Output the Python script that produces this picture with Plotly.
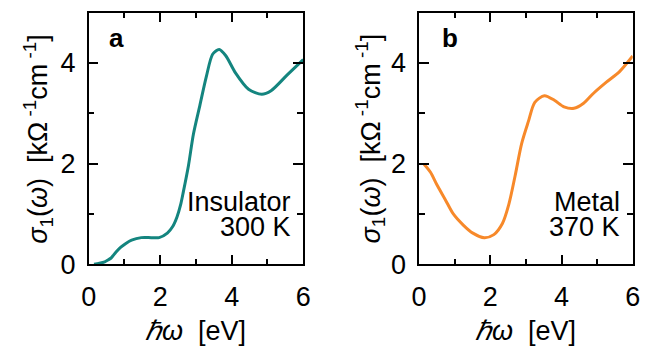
import plotly.graph_objects as go

# Optical conductivity spectra, photon energy in eV, sigma_1 in kOhm^-1 cm^-1
energy_ins = [0.15, 0.3, 0.45, 0.55, 0.62, 0.68, 0.76, 0.9, 1.05, 1.2, 1.47, 1.75, 1.97, 2.2, 2.35,
              2.47, 2.57, 2.65, 2.79, 2.93, 3.11, 3.29, 3.47, 3.65, 3.83, 4.11, 4.47, 4.84, 5.1,
              5.56, 6.0]
sigma_ins = [0.0, 0.02, 0.05, 0.09, 0.12, 0.17, 0.24, 0.34, 0.42, 0.48, 0.53, 0.53, 0.53, 0.62, 0.75,
             0.94, 1.18, 1.45, 1.96, 2.59, 3.16, 3.73, 4.18, 4.27, 4.15, 3.80, 3.48, 3.38, 3.45,
             3.77, 4.07]

energy_met = [0.14, 0.32, 0.5, 0.74, 0.96, 1.24, 1.51, 1.83, 2.1, 2.34, 2.52, 2.7, 2.88,
              3.07, 3.25, 3.52, 3.8, 4.07, 4.35, 4.62, 4.9, 5.26, 5.63, 6.0]
sigma_met = [1.99, 1.83, 1.58, 1.28, 1.0, 0.78, 0.62, 0.53, 0.59, 0.81, 1.19, 1.77, 2.4,
             2.84, 3.22, 3.35, 3.26, 3.13, 3.10, 3.20, 3.40, 3.62, 3.83, 4.14]

x_ticks = [0, 2, 4, 6]
y_ticks = [0, 2, 4]

TEAL = "#14857f"
ORANGE = "#f7892a"
FONT = "Liberation Sans, Arial, sans-serif"
FS = 27
W, H = 649, 354

fig = go.Figure()
fig.add_trace(go.Scatter(x=energy_ins, y=sigma_ins, mode="lines",
                         line=dict(color=TEAL, width=3, shape="spline", smoothing=0.8),
                         xaxis="x", yaxis="y", showlegend=False))
fig.add_trace(go.Scatter(x=energy_met, y=sigma_met, mode="lines",
                         line=dict(color=ORANGE, width=3, shape="spline", smoothing=0.8),
                         xaxis="x2", yaxis="y2", showlegend=False))

def px_x(p):
    return p / W

def px_y(p):
    return 1 - p / H

ax_common = dict(showline=True, linecolor="black", linewidth=1.5, mirror="ticks",
                 ticks="inside", ticklen=10, tickwidth=1.5, tickcolor="black",
                 showgrid=False, zeroline=False,
                 tickfont=dict(family=FONT, size=FS, color="black"),
                 minor=dict(ticks="inside", ticklen=6, tickwidth=1.5, tickcolor="black",
                            dtick=1, showgrid=False))

y_dom = [px_y(276), px_y(13.3)]
fig.update_layout(
    width=W, height=H, margin=dict(l=0, r=0, t=0, b=0),
    paper_bgcolor="white", plot_bgcolor="white",
    xaxis=dict(domain=[px_x(82.7), px_x(302.7)], range=[0, 6], tickvals=x_ticks,
               anchor="y", ticklabelstandoff=8, **ax_common),
    yaxis=dict(domain=y_dom, range=[0, 5], tickvals=y_ticks, anchor="x",
               ticklabelstandoff=6, **ax_common),
    xaxis2=dict(domain=[px_x(421.5), px_x(640.5)], range=[0, 6], tickvals=x_ticks,
                anchor="y2", ticklabelstandoff=8, **ax_common),
    yaxis2=dict(domain=y_dom, range=[0, 5], tickvals=y_ticks, anchor="x2",
                ticklabelstandoff=6, **ax_common),
)

ytitle = "<i>σ</i><sub>1</sub>(<i>ω</i>)  [kΩ<sup> -1</sup>cm<sup> -1</sup>]"
xtitle = "<i>ℏω</i>  [eV]"

def note(text, x, y, size=FS, xanchor="center", yanchor="middle", angle=0):
    fig.add_annotation(text=text, x=px_x(x), y=px_y(y), xref="paper", yref="paper",
                       xanchor=xanchor, yanchor=yanchor, showarrow=False, textangle=angle,
                       font=dict(family=FONT, size=size, color="black"))

for cx, tx in [(30, 192.7), (371, 531)]:
    note(ytitle, cx, 144.7, angle=-90)
    note(xtitle, tx, 346)

note("<b>a</b>", 111, 40, size=26)
note("<b>b</b>", 453, 40, size=26)

note("Insulator", 292, 211, xanchor="right")
note("300 K", 292, 237, xanchor="right")
note("Metal", 630, 211, xanchor="right")
note("370 K", 630, 237, xanchor="right")

fig.write_html("out.html")
